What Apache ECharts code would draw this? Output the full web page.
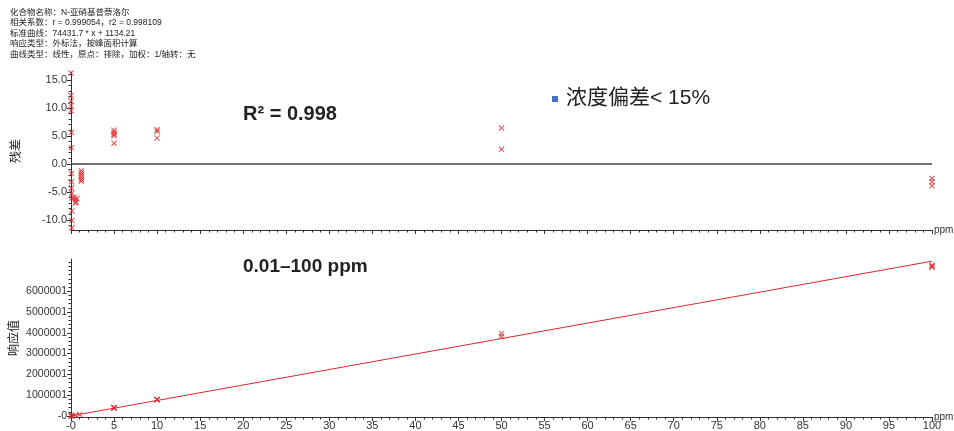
<!DOCTYPE html>
<html><head><meta charset="utf-8">
<script src="https://cdn.jsdelivr.net/npm/echarts@6/dist/echarts.min.js"></script>
<style>html,body{margin:0;padding:0;background:#fff}#c{width:954px;height:431px}</style>
</head><body><div id="c"></div>
<script>
// ---- data ----
const headerLines = [
  "化合物名称：N-亚硝基普萘洛尔",
  "相关系数：r = 0.999054，r2 = 0.998109",
  "标准曲线：74431.7 * x + 1134.21",
  "响应类型：外标法，按峰面积计算",
  "曲线类型：线性，原点：排除，加权：1/轴转：无"
];
const residualX = [0.01,0.01,0.01,0.01,0.01,0.05,0.05,0.05,0.05,0.05,0.1,0.1,0.1,0.1,0.1,
                   0.4,0.5,0.6,0.5,0.7,
                   1.2,1.2,1.2,1.2,1.2,1.2,
                   5,5,5,5,5, 10,10,10, 50,50, 100,100,100];
const residualY = [16.2,12.2,11.2,10.4,9.5,5.6,2.9,-1.7,-3.2,-4.3,-5.2,-6.1,-8.4,-10.1,-11.4,
                   -6.0,-6.4,-6.8,-7.0,-6.2,
                   -1.2,-1.6,-2.0,-2.4,-2.8,-3.1,
                   6.0,5.6,5.3,5.0,3.7, 6.1,5.8,4.6, 6.4,2.6, -2.6,-3.2,-3.9];
const responseX = [0.01,0.05,0.1,0.5,1, 5,5,5,5, 10,10,10, 50,50, 100,100,100];
const responseY = [1900,5000,9000,36000,74000, 395000,392000,389000,385000, 789000,787000,779000, 3960000,3820000, 7250000,7200000,7150000];
const fitLineX = [0, 100];
const fitLineY = [1134.21, 7444304];
const residualTicks = [-10, -5, 0, 5, 10, 15];
const responseTicks = [0, 1000000, 2000000, 3000000, 4000000, 5000000, 6000000];
const xTicks = [0,5,10,15,20,25,30,35,40,45,50,55,60,65,70,75,80,85,90,95,100];
const annR2 = "R² = 0.998";
const annRange = "0.01–100 ppm";
const annLegend = "浓度偏差< 15%";

// ---- chart ----
const FF = "'Liberation Sans','Noto Sans CJK SC',sans-serif";
const RED = '#d9262c';
const XSYM = 'path://M0,1.2L1.2,0L5,3.8L8.8,0L10,1.2L6.2,5L10,8.8L8.8,10L5,6.2L1.2,10L0,8.8L3.8,5Z';
const range = (a,b,s)=>{const r=[];for(let v=a;v<=b+1e-9;v+=s)r.push(+v.toFixed(6));return r;};
const minorX = range(0,100,1);
const minorRes = range(-11,16,1);
const minorResp = range(0,7400000,200000);
const pair = (xs,ys)=>xs.map((x,i)=>[x,ys[i]]);
const lblStyle = {color:'#333', fontSize:11, fontFamily:FF};
const noZeroLine = {onZero:false, lineStyle:{color:'#333'}};

const chart = echarts.init(document.getElementById('c'));
const option = {
  animation:false,
  graphic: headerLines.map((t,i)=>({type:'text', left:10, top:8+i*10.6,
      style:{text:t, font:'8.5px '+FF, fill:'#222'}})).concat([
    {type:'text', left:243, top:104, style:{text:annR2, font:'bold 20px '+FF, fill:'#222'}},
    {type:'text', left:243, top:257, style:{text:annRange, font:'bold 19px '+FF, fill:'#222'}},
    {type:'rect', shape:{x:552, y:96, width:6, height:6}, style:{fill:'#4472c4'}},
    {type:'text', left:566, top:88, style:{text:annLegend, font:'21px '+FF, fill:'#222'}}
  ]),
  grid:[
    {left:71, right:22, top:72, height:158, outerBoundsMode:'none', containLabel:false},
    {left:71, right:22, top:259, height:158, outerBoundsMode:'none', containLabel:false}
  ],
  xAxis:[
    {gridIndex:0, type:'value', min:0, max:100, position:'bottom',
     name:'ppm', nameGap:2, nameMoveOverlap:false, nameTextStyle:{color:'#333', fontSize:10, fontFamily:FF},
     axisLine:noZeroLine, axisLabel:{show:false},
     axisTick:{customValues:xTicks, length:4, lineStyle:{color:'#333'}}, splitLine:{show:false}},
    {gridIndex:0, type:'value', min:0, max:100, position:'bottom',
     axisLine:{show:false, onZero:false}, axisLabel:{show:false},
     axisTick:{customValues:minorX, length:2.5, lineStyle:{color:'#333'}}, splitLine:{show:false}},
    {gridIndex:1, type:'value', min:0, max:100, position:'bottom',
     name:'ppm', nameGap:2, nameMoveOverlap:false, nameTextStyle:{color:'#333', fontSize:10, fontFamily:FF},
     axisLine:noZeroLine,
     axisLabel:Object.assign({customValues:xTicks, margin:3, formatter:v=>v===0?'-0':String(v)}, lblStyle),
     axisTick:{customValues:xTicks, length:4, lineStyle:{color:'#333'}}, splitLine:{show:false}},
    {gridIndex:1, type:'value', min:0, max:100, position:'bottom',
     axisLine:{show:false, onZero:false}, axisLabel:{show:false},
     axisTick:{customValues:minorX, length:2.5, lineStyle:{color:'#333'}}, splitLine:{show:false}}
  ],
  yAxis:[
    {gridIndex:0, type:'value', min:-11.8, max:16.4, position:'left',
     name:'残差', nameLocation:'middle', nameGap:48, nameRotate:90, nameMoveOverlap:false,
     nameTextStyle:{color:'#222', fontSize:12, fontFamily:FF},
     axisLine:{show:true, onZero:false, lineStyle:{color:'#333'}},
     axisLabel:Object.assign({customValues:residualTicks, margin:4, formatter:v=>v.toFixed(1)}, lblStyle),
     axisTick:{show:true, customValues:residualTicks, length:4, lineStyle:{color:'#333'}}, splitLine:{show:false}},
    {gridIndex:0, type:'value', min:-11.8, max:16.4, position:'left',
     axisLine:{show:false, onZero:false}, axisLabel:{show:false},
     axisTick:{show:true, customValues:minorRes, length:2.5, lineStyle:{color:'#333'}}, splitLine:{show:false}},
    {gridIndex:1, type:'value', min:-50000, max:7550000, position:'left',
     name:'响应值', nameLocation:'middle', nameGap:50, nameRotate:90, nameMoveOverlap:false,
     nameTextStyle:{color:'#222', fontSize:12, fontFamily:FF},
     axisLine:{show:true, onZero:false, lineStyle:{color:'#333'}},
     axisLabel:Object.assign({}, lblStyle, {customValues:responseTicks, margin:4, fontSize:10.5, formatter:v=>v===0?'-0':String(v+1)}),
     axisTick:{show:true, customValues:responseTicks, length:4, lineStyle:{color:'#333'}}, splitLine:{show:false}},
    {gridIndex:1, type:'value', min:-50000, max:7550000, position:'left',
     axisLine:{show:false, onZero:false}, axisLabel:{show:false},
     axisTick:{show:true, customValues:minorResp, length:2.5, lineStyle:{color:'#333'}}, splitLine:{show:false}}
  ],
  series:[
    {type:'scatter', xAxisIndex:0, yAxisIndex:0, data:pair(residualX,residualY),
     symbol:XSYM, symbolSize:6, itemStyle:{color:RED}, z:3,
     markLine:{silent:true, symbol:'none', label:{show:false},
       lineStyle:{color:'#444', width:1.5, type:'solid'}, data:[{yAxis:0}]}},
    {type:'line', xAxisIndex:2, yAxisIndex:2, data:pair(fitLineX,fitLineY),
     showSymbol:false, symbol:'none', lineStyle:{color:RED, width:1}, z:2},
    {type:'scatter', xAxisIndex:2, yAxisIndex:2, data:pair(responseX,responseY),
     symbol:XSYM, symbolSize:6, itemStyle:{color:RED}, z:3}
  ]
};
chart.setOption(option);
</script></body></html>
